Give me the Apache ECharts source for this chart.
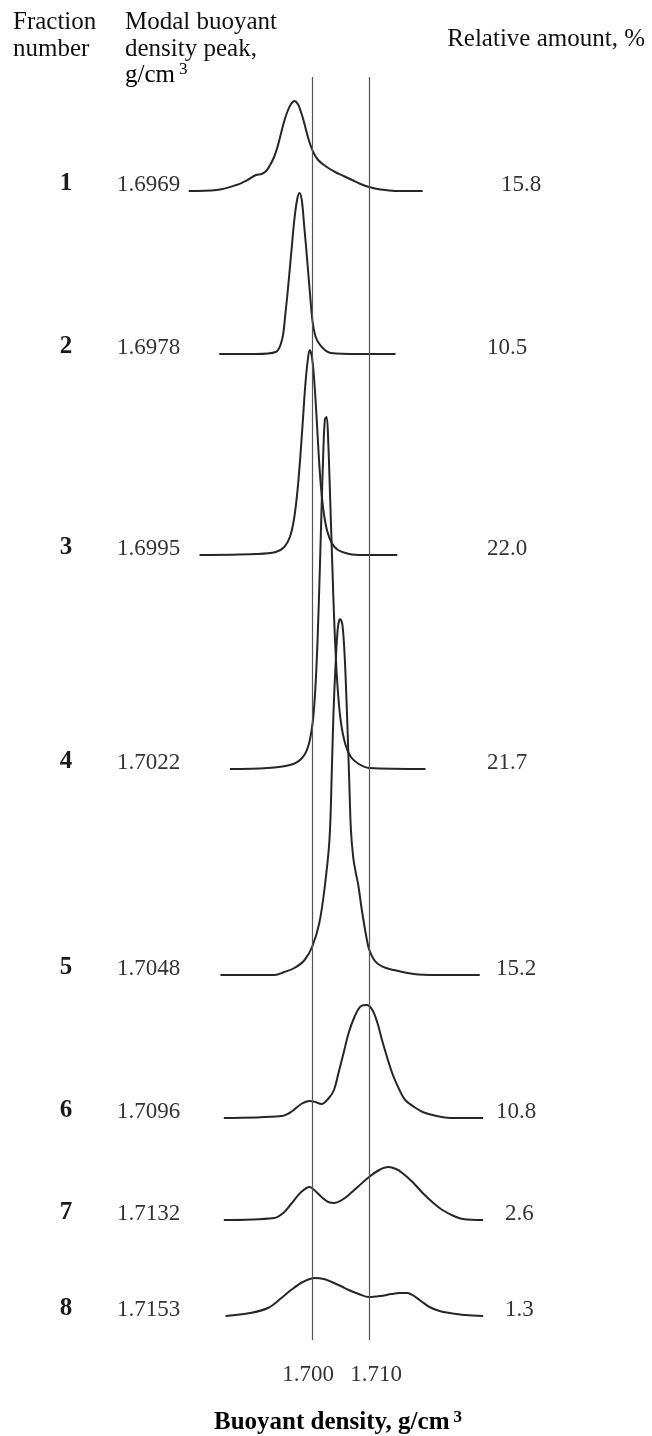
<!DOCTYPE html>
<html>
<head>
<meta charset="utf-8">
<style>
  html, body { margin: 0; padding: 0; background: #fff; }
  #chart { width: 652px; height: 1436px; }
</style>
<script src="https://cdn.jsdelivr.net/npm/echarts@6.0.0/dist/echarts.min.js"></script>
</head>
<body>
<div id="chart"></div>
<script>
// ---- data ----
const fractions = ['1', '2', '3', '4', '5', '6', '7', '8'];
const peakDensity = ['1.6969', '1.6978', '1.6995', '1.7022', '1.7048', '1.7096', '1.7132', '1.7153'];
const relAmount = ['15.8', '10.5', '22.0', '21.7', '15.2', '10.8', '2.6', '1.3'];
const densityTicks = [1.700, 1.710];

// buoyant density (g/cm3) and relative absorbance (arbitrary units) per fraction
const dens1 = [1.6781, 1.6830, 1.6865, 1.6885, 1.6900, 1.6910, 1.6918, 1.6925, 1.6932, 1.6938, 1.6944, 1.6950, 1.6956, 1.6962, 1.6968, 1.6974, 1.6979, 1.6984, 1.6989, 1.6994, 1.6999, 1.7004, 1.7010, 1.7018, 1.7028, 1.7040, 1.7055, 1.7070, 1.7085, 1.7100, 1.7120, 1.7146, 1.7195];
const amp1  = [0, 1, 6, 11, 16, 17, 20, 26, 34, 44, 57, 70, 80, 87, 90, 87, 80, 71, 60, 50, 42, 36, 31, 27, 23, 19, 15, 11, 7, 4, 1.5, 0, 0];

const dens2 = [1.6835, 1.6900, 1.6935, 1.6946, 1.6952, 1.6958, 1.6963, 1.6968, 1.6973, 1.6977, 1.6981, 1.6985, 1.6990, 1.6995, 1.7000, 1.7005, 1.7011, 1.7020, 1.7033, 1.7080, 1.7147];
const amp2  = [0, 0, 2, 14, 40, 74, 105, 135, 155, 161, 154, 130, 98, 64, 33, 18, 11, 5, 1, 0, 0];

const dens3 = [1.6800, 1.6900, 1.6935, 1.6950, 1.6960, 1.6967, 1.6973, 1.6978, 1.6983, 1.6987, 1.6991, 1.6995, 1.6999, 1.7003, 1.7007, 1.7011, 1.7015, 1.7020, 1.7026, 1.7034, 1.7045, 1.7065, 1.7090, 1.7150];
const amp3  = [0, 1, 3, 8, 18, 35, 62, 95, 135, 168, 192, 205, 198, 175, 140, 100, 68, 42, 24, 12, 5, 1, 0, 0];

const dens4 = [1.6854, 1.6920, 1.6960, 1.6980, 1.6992, 1.7000, 1.7005, 1.7009, 1.7013, 1.7016, 1.7019, 1.7022, 1.7025, 1.7028, 1.7031, 1.7035, 1.7039, 1.7044, 1.7050, 1.7058, 1.7068, 1.7082, 1.7100, 1.7200];
const amp4  = [0, 1, 4, 10, 22, 45, 80, 130, 200, 260, 315, 350, 352, 325, 275, 205, 140, 85, 48, 25, 12, 5, 1, 0];

const dens5 = [1.6837, 1.6933, 1.6950, 1.6968, 1.6986, 1.7000, 1.7012, 1.7021, 1.7030, 1.7034, 1.7037, 1.7041, 1.7045, 1.7049, 1.7053, 1.7057, 1.7061, 1.7065, 1.7068, 1.7072, 1.7076, 1.7081, 1.7086, 1.7091, 1.7096, 1.7100, 1.7108, 1.7116, 1.7130, 1.7144, 1.7179, 1.7220, 1.7296];
const amp5  = [0, 0, 3, 7, 15, 29, 52, 85, 135, 200, 260, 312, 348, 356, 350, 318, 262, 195, 145, 118, 104, 90, 70, 52, 36, 26, 16, 11, 7, 5, 1, 0, 0];

const dens6 = [1.6843, 1.6945, 1.6962, 1.6980, 1.6995, 1.7005, 1.7016, 1.7029, 1.7038, 1.7046, 1.7055, 1.7064, 1.7075, 1.7086, 1.7096, 1.7106, 1.7115, 1.7123, 1.7141, 1.7154, 1.7164, 1.7180, 1.7195, 1.7220, 1.7243, 1.7302];
const amp6  = [0, 2, 6, 14, 17, 16, 14, 20, 28, 45, 65, 85, 102, 112, 113, 108, 95, 78, 45, 28, 18, 11, 6, 2, 0, 0];

const dens7 = [1.6843, 1.6932, 1.6950, 1.6962, 1.6980, 1.6995, 1.7005, 1.7016, 1.7028, 1.7039, 1.7052, 1.7064, 1.7082, 1.7100, 1.7118, 1.7134, 1.7148, 1.7159, 1.7177, 1.7195, 1.7212, 1.7230, 1.7250, 1.7266, 1.7302];
const amp7  = [0, 2, 8, 16, 28, 33, 29, 23, 18, 17, 20, 25, 34, 43, 50, 53, 51, 47, 38, 27, 18, 10, 4, 1, 0];

const dens8 = [1.6846, 1.6890, 1.6921, 1.6945, 1.6962, 1.6983, 1.7004, 1.7020, 1.7034, 1.7050, 1.7064, 1.7082, 1.7100, 1.7120, 1.7140, 1.7154, 1.7168, 1.7177, 1.7192, 1.7207, 1.7225, 1.7243, 1.7270, 1.7302];
const amp8  = [0, 3, 8, 18, 26, 34, 38, 37, 34, 30, 26, 22, 19, 20, 22, 23, 23, 21, 15, 9, 5, 3, 1, 0];

const traces = [[dens1, amp1], [dens2, amp2], [dens3, amp3], [dens4, amp4],
                [dens5, amp5], [dens6, amp6], [dens7, amp7], [dens8, amp8]];

// ---- layout ----
const X_MIN = 1.670, X_MAX = 1.740;
const PLOT_LEFT = 143, PLOT_WIDTH = 395.5;
const AMP_RANGE = 380;
const rowBase = [191, 354, 555, 769, 975, 1118, 1220, 1316];
const amountLeft = [501, 487, 487, 487, 496, 496, 505, 505];
const FONT = '"Liberation Serif", "DejaVu Serif", serif';
const INK = '#262626';

const chart = echarts.init(document.getElementById('chart'));

const grids = [], xAxes = [], yAxes = [], series = [], graphics = [];

traces.forEach(function (t, i) {
  // one pixel per absorbance unit; keep every grid inside the canvas
  const range = Math.min(AMP_RANGE, rowBase[i] - 10);
  grids.push({ left: PLOT_LEFT, width: PLOT_WIDTH, top: rowBase[i] - range, height: range });
  xAxes.push({ gridIndex: i, type: 'value', min: X_MIN, max: X_MAX, show: false });
  yAxes.push({ gridIndex: i, type: 'value', min: 0, max: range, show: false });
  series.push({
    type: 'line',
    xAxisIndex: i,
    yAxisIndex: i,
    data: t[0].map(function (d, k) { return [d, t[1][k]]; }),
    smooth: 0.35,
    showSymbol: false,
    silent: true,
    lineStyle: { color: INK, width: 2 }
  });

  const labelY = rowBase[i] + 2;
  graphics.push({
    type: 'text', x: 66, y: labelY - 9,
    style: { text: fractions[i], font: 'bold 25px ' + FONT, fill: '#1a1a1a', align: 'center', verticalAlign: 'middle' }
  });
  graphics.push({
    type: 'text', x: 117, y: labelY - 8,
    style: { text: peakDensity[i], font: '23px ' + FONT, fill: '#333', align: 'left', verticalAlign: 'middle' }
  });
  graphics.push({
    type: 'text', x: amountLeft[i], y: labelY - 8,
    style: { text: relAmount[i], font: '23px ' + FONT, fill: '#333', align: 'left', verticalAlign: 'middle' }
  });
});

// frame grid for the reference lines and the density scale
grids.push({ left: PLOT_LEFT, width: PLOT_WIDTH, top: 77, bottom: 96 });
xAxes.push({
  gridIndex: 8, type: 'value', min: X_MIN, max: X_MAX,
  axisLine: { show: false }, axisTick: { show: false }, splitLine: { show: false },
  axisLabel: {
    customValues: densityTicks,
    margin: 23,
    formatter: function (v) {
      return v < 1.705 ? '{a|' + v.toFixed(3) + '}' : '{b|' + v.toFixed(3) + '}';
    },
    rich: {
      a: { fontFamily: FONT, fontSize: 23, color: '#333', padding: [0, 9, 0, 0] },
      b: { fontFamily: FONT, fontSize: 23, color: '#333', padding: [0, 0, 0, 14] }
    }
  }
});
yAxes.push({ gridIndex: 8, type: 'value', min: 0, max: 1, show: false });
series.push({
  type: 'line', xAxisIndex: 8, yAxisIndex: 8, data: [], silent: true,
  markLine: {
    silent: true, symbol: ['none', 'none'], label: { show: false },
    lineStyle: { color: '#555', width: 1.2, type: 'solid' },
    data: densityTicks.map(function (v) { return { xAxis: v }; })
  }
});

// headings
graphics.push({
  type: 'text', x: 13, y: 9,
  style: { text: 'Fraction\nnumber', font: '25px ' + FONT, fill: '#111', lineHeight: 27, verticalAlign: 'top' }
});
graphics.push({
  type: 'text', x: 125, y: 9,
  style: { text: 'Modal buoyant\ndensity peak,', font: '25px ' + FONT, fill: '#111', lineHeight: 27, verticalAlign: 'top' }
});
graphics.push({
  type: 'text', x: 125, y: 75,
  style: {
    text: '{t|g/cm}{s|3}',
    rich: {
      t: { fontFamily: FONT, fontSize: 25, color: '#111', lineHeight: 28 },
      s: { fontFamily: FONT, fontSize: 17, color: '#111', padding: [0, 0, 11, 4] }
    },
    verticalAlign: 'middle'
  }
});
graphics.push({
  type: 'text', x: 645, y: 39,
  style: { text: 'Relative amount, %', font: '25px ' + FONT, fill: '#111', align: 'right', verticalAlign: 'middle' }
});
graphics.push({
  type: 'text', x: 338, y: 1423,
  style: {
    text: '{t|Buoyant density, g/cm}{s|3}',
    rich: {
      t: { fontFamily: FONT, fontSize: 25, fontWeight: 'bold', color: '#111', lineHeight: 28 },
      s: { fontFamily: FONT, fontSize: 17, fontWeight: 'bold', color: '#111', padding: [0, 0, 11, 4] }
    },
    align: 'center',
    verticalAlign: 'middle'
  }
});

chart.setOption({
  animation: false,
  grid: grids,
  xAxis: xAxes,
  yAxis: yAxes,
  series: series,
  graphic: graphics
});
</script>
</body>
</html>
